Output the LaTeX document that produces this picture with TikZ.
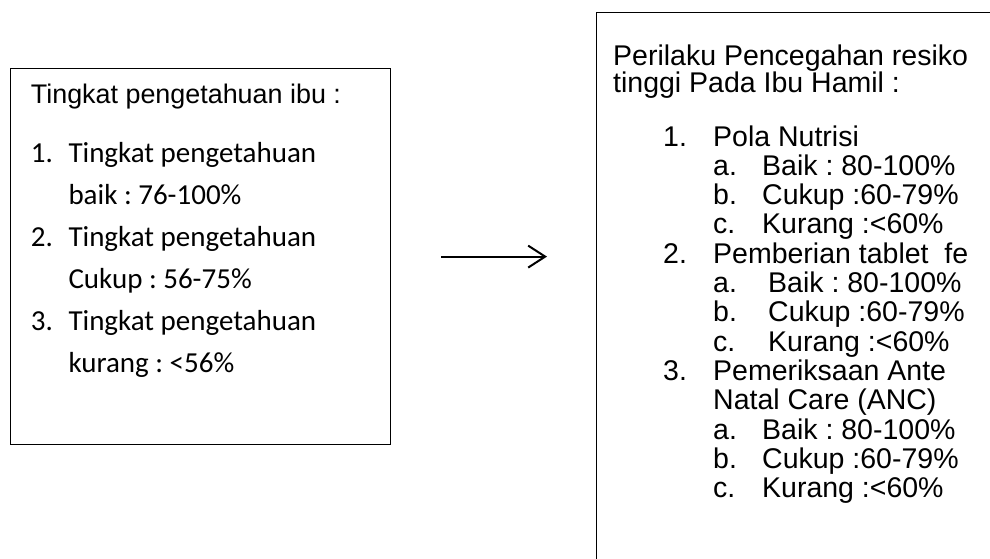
\documentclass[tikz,border=0pt]{standalone}
\usepackage{fontspec}
\setmainfont{Liberation Sans}
\newfontfamily\calibri{Carlito}
\usetikzlibrary{arrows.meta,positioning}
\frenchspacing

\begin{document}
\begin{tikzpicture}[x=1pt,y=-1pt,
 kotak/.style={draw,line width=1.2pt,inner sep=0pt,anchor=north west},
 judul/.style={anchor=base west,inner sep=0pt,align=left,font=\fontsize{26.9}{27}\selectfont},
 butir/.style={anchor=base west,inner sep=0pt,align=left,font=\calibri\fontsize{29}{42}\selectfont},
 isi/.style={anchor=base west,inner sep=0pt,align=left,font=\fontsize{28.5}{27}\selectfont},
 panah/.style={line width=2pt,-{Straight Barb[length=17pt,width=22pt]}}]
\useasboundingbox (0,0) rectangle (990,558);
% kedua kotak
\node[kotak,minimum width=380pt,minimum height=376pt] (pengetahuan) at (10,68) {};
\node[kotak,minimum width=420pt,minimum height=600pt] (perilaku) at (596,12) {};
% kotak kiri (base = baris terakhir)
\node[judul] (judulkiri) at (30.7,103) {Tingkat pengetahuan ibu :};
\node[butir] (no1) at (30.7,162) {1.};
\node[butir] (tk1) at (68.3,204) {Tingkat pengetahuan\\baik : 76-100\%};
\node[butir] (no2) at (30.7,246) {2.};
\node[butir] (tk2) at (68.3,288) {Tingkat pengetahuan\\Cukup : 56-75\%};
\node[butir] (no3) at (30.7,330) {3.};
\node[butir] (tk3) at (68.3,372) {Tingkat pengetahuan\\kurang : <56\%};
% kotak kanan
\node[isi] (judulkanan) at (613,92) {Perilaku Pencegahan resiko\\tinggi Pada Ibu Hamil :};
\foreach \y/\xa/\la/\xb/\tb [count=\i] in {
 146/663/1./713/Pola Nutrisi,
 175.3/713/a./762/Baik : 80-100\%,
 204.6/713/b./762/Cukup :60-79\%,
 233.9/713/c./762/Kurang :<60\%,
 263.2/663/2./713/Pemberian tablet\ \ fe,
 292.5/713/a./768/Baik : 80-100\%,
 321.8/713/b./768/Cukup :60-79\%,
 351.1/713/c./768/Kurang :<60\%,
 380.4/663/3./713/Pemeriksaan Ante,
 439/713/a./762/Baik : 80-100\%,
 468.3/713/b./762/Cukup :60-79\%,
 497.6/713/c./762/Kurang :<60\%}
{
 \node[isi] (lb\i) at (\xa,\y) {\la};
 \node[isi] (tx\i) at (\xb,\y) {\tb};
}
\node[isi] (anc) at (713,409.7) {Natal Care (ANC)};
% panah
\draw[panah,shorten <=50pt,shorten >=49pt] (pengetahuan.east) -- (perilaku.west |- pengetahuan.east);
\end{tikzpicture}
\end{document}
